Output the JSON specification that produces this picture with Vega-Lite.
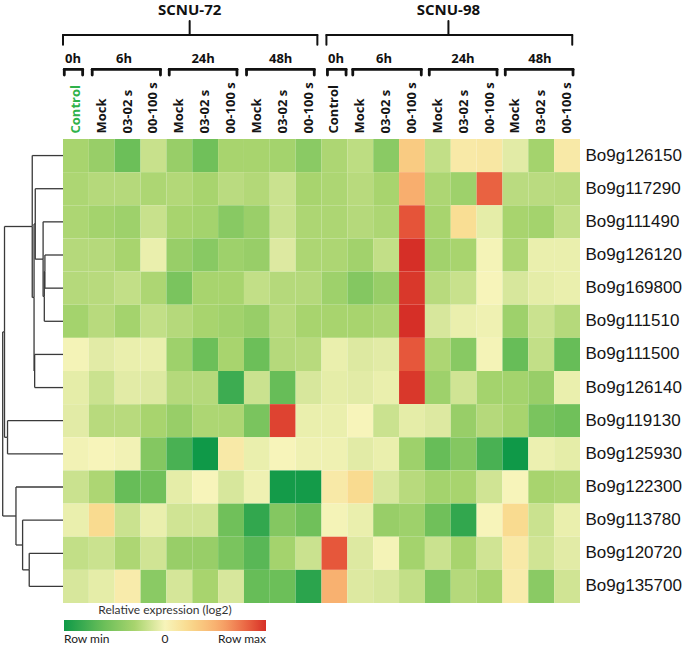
{
"$schema": "https://vega.github.io/schema/vega-lite/v6.json",
"width": 517, "height": 464,
"autosize": {"type": "none"},
"padding": {"left": 63, "top": 139, "right": 105, "bottom": 42},
"background": "white",
"config": {"view": {"stroke": null}},
"datasets": {
"cells": [
{"gene":"Bo9g126150","sample":"72|0h|Control","value":-0.3},{"gene":"Bo9g126150","sample":"72|6h|Mock","value":-0.38},{"gene":"Bo9g126150","sample":"72|6h|03-02 s","value":-0.6},{"gene":"Bo9g126150","sample":"72|6h|00-100 s","value":-0.18},{"gene":"Bo9g126150","sample":"72|24h|Mock","value":-0.38},{"gene":"Bo9g126150","sample":"72|24h|03-02 s","value":-0.58},{"gene":"Bo9g126150","sample":"72|24h|00-100 s","value":-0.3},{"gene":"Bo9g126150","sample":"72|48h|Mock","value":-0.3},{"gene":"Bo9g126150","sample":"72|48h|03-02 s","value":-0.32},{"gene":"Bo9g126150","sample":"72|48h|00-100 s","value":-0.45},{"gene":"Bo9g126150","sample":"98|0h|Control","value":-0.28},{"gene":"Bo9g126150","sample":"98|6h|Mock","value":-0.22},{"gene":"Bo9g126150","sample":"98|6h|03-02 s","value":-0.45},{"gene":"Bo9g126150","sample":"98|6h|00-100 s","value":0.33},{"gene":"Bo9g126150","sample":"98|24h|Mock","value":-0.2},{"gene":"Bo9g126150","sample":"98|24h|03-02 s","value":0.1},{"gene":"Bo9g126150","sample":"98|24h|00-100 s","value":0.12},{"gene":"Bo9g126150","sample":"98|48h|Mock","value":-0.08},{"gene":"Bo9g126150","sample":"98|48h|03-02 s","value":-0.32},{"gene":"Bo9g126150","sample":"98|48h|00-100 s","value":0.1},
{"gene":"Bo9g117290","sample":"72|0h|Control","value":-0.28},{"gene":"Bo9g117290","sample":"72|6h|Mock","value":-0.25},{"gene":"Bo9g117290","sample":"72|6h|03-02 s","value":-0.25},{"gene":"Bo9g117290","sample":"72|6h|00-100 s","value":-0.28},{"gene":"Bo9g117290","sample":"72|24h|Mock","value":-0.26},{"gene":"Bo9g117290","sample":"72|24h|03-02 s","value":-0.3},{"gene":"Bo9g117290","sample":"72|24h|00-100 s","value":-0.23},{"gene":"Bo9g117290","sample":"72|48h|Mock","value":-0.26},{"gene":"Bo9g117290","sample":"72|48h|03-02 s","value":-0.17},{"gene":"Bo9g117290","sample":"72|48h|00-100 s","value":-0.3},{"gene":"Bo9g117290","sample":"98|0h|Control","value":-0.28},{"gene":"Bo9g117290","sample":"98|6h|Mock","value":-0.24},{"gene":"Bo9g117290","sample":"98|6h|03-02 s","value":-0.3},{"gene":"Bo9g117290","sample":"98|6h|00-100 s","value":0.52},{"gene":"Bo9g117290","sample":"98|24h|Mock","value":-0.28},{"gene":"Bo9g117290","sample":"98|24h|03-02 s","value":-0.35},{"gene":"Bo9g117290","sample":"98|24h|00-100 s","value":0.82},{"gene":"Bo9g117290","sample":"98|48h|Mock","value":-0.23},{"gene":"Bo9g117290","sample":"98|48h|03-02 s","value":-0.23},{"gene":"Bo9g117290","sample":"98|48h|00-100 s","value":-0.24},
{"gene":"Bo9g111490","sample":"72|0h|Control","value":-0.28},{"gene":"Bo9g111490","sample":"72|6h|Mock","value":-0.32},{"gene":"Bo9g111490","sample":"72|6h|03-02 s","value":-0.35},{"gene":"Bo9g111490","sample":"72|6h|00-100 s","value":-0.18},{"gene":"Bo9g111490","sample":"72|24h|Mock","value":-0.3},{"gene":"Bo9g111490","sample":"72|24h|03-02 s","value":-0.32},{"gene":"Bo9g111490","sample":"72|24h|00-100 s","value":-0.46},{"gene":"Bo9g111490","sample":"72|48h|Mock","value":-0.37},{"gene":"Bo9g111490","sample":"72|48h|03-02 s","value":-0.17},{"gene":"Bo9g111490","sample":"72|48h|00-100 s","value":-0.28},{"gene":"Bo9g111490","sample":"98|0h|Control","value":-0.28},{"gene":"Bo9g111490","sample":"98|6h|Mock","value":-0.25},{"gene":"Bo9g111490","sample":"98|6h|03-02 s","value":-0.28},{"gene":"Bo9g111490","sample":"98|6h|00-100 s","value":0.87},{"gene":"Bo9g111490","sample":"98|24h|Mock","value":-0.3},{"gene":"Bo9g111490","sample":"98|24h|03-02 s","value":0.2},{"gene":"Bo9g111490","sample":"98|24h|00-100 s","value":-0.07},{"gene":"Bo9g111490","sample":"98|48h|Mock","value":-0.3},{"gene":"Bo9g111490","sample":"98|48h|03-02 s","value":-0.32},{"gene":"Bo9g111490","sample":"98|48h|00-100 s","value":-0.2},
{"gene":"Bo9g126120","sample":"72|0h|Control","value":-0.25},{"gene":"Bo9g126120","sample":"72|6h|Mock","value":-0.25},{"gene":"Bo9g126120","sample":"72|6h|03-02 s","value":-0.3},{"gene":"Bo9g126120","sample":"72|6h|00-100 s","value":-0.05},{"gene":"Bo9g126120","sample":"72|24h|Mock","value":-0.38},{"gene":"Bo9g126120","sample":"72|24h|03-02 s","value":-0.46},{"gene":"Bo9g126120","sample":"72|24h|00-100 s","value":-0.35},{"gene":"Bo9g126120","sample":"72|48h|Mock","value":-0.38},{"gene":"Bo9g126120","sample":"72|48h|03-02 s","value":-0.1},{"gene":"Bo9g126120","sample":"72|48h|00-100 s","value":-0.28},{"gene":"Bo9g126120","sample":"98|0h|Control","value":-0.28},{"gene":"Bo9g126120","sample":"98|6h|Mock","value":-0.33},{"gene":"Bo9g126120","sample":"98|6h|03-02 s","value":-0.2},{"gene":"Bo9g126120","sample":"98|6h|00-100 s","value":1.0},{"gene":"Bo9g126120","sample":"98|24h|Mock","value":-0.33},{"gene":"Bo9g126120","sample":"98|24h|03-02 s","value":-0.3},{"gene":"Bo9g126120","sample":"98|24h|00-100 s","value":-0.01},{"gene":"Bo9g126120","sample":"98|48h|Mock","value":-0.28},{"gene":"Bo9g126120","sample":"98|48h|03-02 s","value":-0.05},{"gene":"Bo9g126120","sample":"98|48h|00-100 s","value":-0.05},
{"gene":"Bo9g169800","sample":"72|0h|Control","value":-0.25},{"gene":"Bo9g169800","sample":"72|6h|Mock","value":-0.24},{"gene":"Bo9g169800","sample":"72|6h|03-02 s","value":-0.2},{"gene":"Bo9g169800","sample":"72|6h|00-100 s","value":-0.28},{"gene":"Bo9g169800","sample":"72|24h|Mock","value":-0.53},{"gene":"Bo9g169800","sample":"72|24h|03-02 s","value":-0.3},{"gene":"Bo9g169800","sample":"72|24h|00-100 s","value":-0.3},{"gene":"Bo9g169800","sample":"72|48h|Mock","value":-0.2},{"gene":"Bo9g169800","sample":"72|48h|03-02 s","value":-0.25},{"gene":"Bo9g169800","sample":"72|48h|00-100 s","value":-0.25},{"gene":"Bo9g169800","sample":"98|0h|Control","value":-0.35},{"gene":"Bo9g169800","sample":"98|6h|Mock","value":-0.48},{"gene":"Bo9g169800","sample":"98|6h|03-02 s","value":-0.38},{"gene":"Bo9g169800","sample":"98|6h|00-100 s","value":0.97},{"gene":"Bo9g169800","sample":"98|24h|Mock","value":-0.24},{"gene":"Bo9g169800","sample":"98|24h|03-02 s","value":-0.18},{"gene":"Bo9g169800","sample":"98|24h|00-100 s","value":0.0},{"gene":"Bo9g169800","sample":"98|48h|Mock","value":-0.12},{"gene":"Bo9g169800","sample":"98|48h|03-02 s","value":-0.07},{"gene":"Bo9g169800","sample":"98|48h|00-100 s","value":-0.05},
{"gene":"Bo9g111510","sample":"72|0h|Control","value":-0.32},{"gene":"Bo9g111510","sample":"72|6h|Mock","value":-0.24},{"gene":"Bo9g111510","sample":"72|6h|03-02 s","value":-0.32},{"gene":"Bo9g111510","sample":"72|6h|00-100 s","value":-0.2},{"gene":"Bo9g111510","sample":"72|24h|Mock","value":-0.25},{"gene":"Bo9g111510","sample":"72|24h|03-02 s","value":-0.3},{"gene":"Bo9g111510","sample":"72|24h|00-100 s","value":-0.33},{"gene":"Bo9g111510","sample":"72|48h|Mock","value":-0.38},{"gene":"Bo9g111510","sample":"72|48h|03-02 s","value":-0.24},{"gene":"Bo9g111510","sample":"72|48h|00-100 s","value":-0.3},{"gene":"Bo9g111510","sample":"98|0h|Control","value":-0.3},{"gene":"Bo9g111510","sample":"98|6h|Mock","value":-0.3},{"gene":"Bo9g111510","sample":"98|6h|03-02 s","value":-0.28},{"gene":"Bo9g111510","sample":"98|6h|00-100 s","value":1.0},{"gene":"Bo9g111510","sample":"98|24h|Mock","value":-0.12},{"gene":"Bo9g111510","sample":"98|24h|03-02 s","value":-0.05},{"gene":"Bo9g111510","sample":"98|24h|00-100 s","value":-0.03},{"gene":"Bo9g111510","sample":"98|48h|Mock","value":-0.35},{"gene":"Bo9g111510","sample":"98|48h|03-02 s","value":-0.17},{"gene":"Bo9g111510","sample":"98|48h|00-100 s","value":-0.25},
{"gene":"Bo9g111500","sample":"72|0h|Control","value":-0.01},{"gene":"Bo9g111500","sample":"72|6h|Mock","value":-0.08},{"gene":"Bo9g111500","sample":"72|6h|03-02 s","value":-0.05},{"gene":"Bo9g111500","sample":"72|6h|00-100 s","value":-0.05},{"gene":"Bo9g111500","sample":"72|24h|Mock","value":-0.35},{"gene":"Bo9g111500","sample":"72|24h|03-02 s","value":-0.6},{"gene":"Bo9g111500","sample":"72|24h|00-100 s","value":-0.3},{"gene":"Bo9g111500","sample":"72|48h|Mock","value":-0.6},{"gene":"Bo9g111500","sample":"72|48h|03-02 s","value":-0.25},{"gene":"Bo9g111500","sample":"72|48h|00-100 s","value":-0.24},{"gene":"Bo9g111500","sample":"98|0h|Control","value":-0.05},{"gene":"Bo9g111500","sample":"98|6h|Mock","value":-0.1},{"gene":"Bo9g111500","sample":"98|6h|03-02 s","value":-0.08},{"gene":"Bo9g111500","sample":"98|6h|00-100 s","value":0.86},{"gene":"Bo9g111500","sample":"98|24h|Mock","value":-0.28},{"gene":"Bo9g111500","sample":"98|24h|03-02 s","value":-0.46},{"gene":"Bo9g111500","sample":"98|24h|00-100 s","value":-0.01},{"gene":"Bo9g111500","sample":"98|48h|Mock","value":-0.62},{"gene":"Bo9g111500","sample":"98|48h|03-02 s","value":-0.2},{"gene":"Bo9g111500","sample":"98|48h|00-100 s","value":-0.62},
{"gene":"Bo9g126140","sample":"72|0h|Control","value":-0.07},{"gene":"Bo9g126140","sample":"72|6h|Mock","value":-0.17},{"gene":"Bo9g126140","sample":"72|6h|03-02 s","value":-0.08},{"gene":"Bo9g126140","sample":"72|6h|00-100 s","value":-0.1},{"gene":"Bo9g126140","sample":"72|24h|Mock","value":-0.25},{"gene":"Bo9g126140","sample":"72|24h|03-02 s","value":-0.25},{"gene":"Bo9g126140","sample":"72|24h|00-100 s","value":-0.8},{"gene":"Bo9g126140","sample":"72|48h|Mock","value":-0.17},{"gene":"Bo9g126140","sample":"72|48h|03-02 s","value":-0.62},{"gene":"Bo9g126140","sample":"72|48h|00-100 s","value":-0.12},{"gene":"Bo9g126140","sample":"98|0h|Control","value":-0.07},{"gene":"Bo9g126140","sample":"98|6h|Mock","value":-0.08},{"gene":"Bo9g126140","sample":"98|6h|03-02 s","value":-0.05},{"gene":"Bo9g126140","sample":"98|6h|00-100 s","value":0.97},{"gene":"Bo9g126140","sample":"98|24h|Mock","value":-0.35},{"gene":"Bo9g126140","sample":"98|24h|03-02 s","value":-0.15},{"gene":"Bo9g126140","sample":"98|24h|00-100 s","value":-0.32},{"gene":"Bo9g126140","sample":"98|48h|Mock","value":-0.32},{"gene":"Bo9g126140","sample":"98|48h|03-02 s","value":-0.38},{"gene":"Bo9g126140","sample":"98|48h|00-100 s","value":-0.05},
{"gene":"Bo9g119130","sample":"72|0h|Control","value":-0.08},{"gene":"Bo9g119130","sample":"72|6h|Mock","value":-0.24},{"gene":"Bo9g119130","sample":"72|6h|03-02 s","value":-0.24},{"gene":"Bo9g119130","sample":"72|6h|00-100 s","value":-0.3},{"gene":"Bo9g119130","sample":"72|24h|Mock","value":-0.38},{"gene":"Bo9g119130","sample":"72|24h|03-02 s","value":-0.28},{"gene":"Bo9g119130","sample":"72|24h|00-100 s","value":-0.28},{"gene":"Bo9g119130","sample":"72|48h|Mock","value":-0.53},{"gene":"Bo9g119130","sample":"72|48h|03-02 s","value":0.93},{"gene":"Bo9g119130","sample":"72|48h|00-100 s","value":-0.05},{"gene":"Bo9g119130","sample":"98|0h|Control","value":-0.05},{"gene":"Bo9g119130","sample":"98|6h|Mock","value":0.0},{"gene":"Bo9g119130","sample":"98|6h|03-02 s","value":-0.17},{"gene":"Bo9g119130","sample":"98|6h|00-100 s","value":-0.07},{"gene":"Bo9g119130","sample":"98|24h|Mock","value":-0.1},{"gene":"Bo9g119130","sample":"98|24h|03-02 s","value":-0.38},{"gene":"Bo9g119130","sample":"98|24h|00-100 s","value":-0.25},{"gene":"Bo9g119130","sample":"98|48h|Mock","value":-0.3},{"gene":"Bo9g119130","sample":"98|48h|03-02 s","value":-0.53},{"gene":"Bo9g119130","sample":"98|48h|00-100 s","value":-0.58},
{"gene":"Bo9g125930","sample":"72|0h|Control","value":-0.02},{"gene":"Bo9g125930","sample":"72|6h|Mock","value":0.0},{"gene":"Bo9g125930","sample":"72|6h|03-02 s","value":-0.02},{"gene":"Bo9g125930","sample":"72|6h|00-100 s","value":-0.48},{"gene":"Bo9g125930","sample":"72|24h|Mock","value":-0.75},{"gene":"Bo9g125930","sample":"72|24h|03-02 s","value":-1.0},{"gene":"Bo9g125930","sample":"72|24h|00-100 s","value":0.1},{"gene":"Bo9g125930","sample":"72|48h|Mock","value":-0.05},{"gene":"Bo9g125930","sample":"72|48h|03-02 s","value":0.0},{"gene":"Bo9g125930","sample":"72|48h|00-100 s","value":-0.03},{"gene":"Bo9g125930","sample":"98|0h|Control","value":-0.03},{"gene":"Bo9g125930","sample":"98|6h|Mock","value":-0.08},{"gene":"Bo9g125930","sample":"98|6h|03-02 s","value":-0.05},{"gene":"Bo9g125930","sample":"98|6h|00-100 s","value":-0.35},{"gene":"Bo9g125930","sample":"98|24h|Mock","value":-0.62},{"gene":"Bo9g125930","sample":"98|24h|03-02 s","value":-0.48},{"gene":"Bo9g125930","sample":"98|24h|00-100 s","value":-0.75},{"gene":"Bo9g125930","sample":"98|48h|Mock","value":-1.0},{"gene":"Bo9g125930","sample":"98|48h|03-02 s","value":-0.04},{"gene":"Bo9g125930","sample":"98|48h|00-100 s","value":-0.07},
{"gene":"Bo9g122300","sample":"72|0h|Control","value":-0.17},{"gene":"Bo9g122300","sample":"72|6h|Mock","value":-0.28},{"gene":"Bo9g122300","sample":"72|6h|03-02 s","value":-0.62},{"gene":"Bo9g122300","sample":"72|6h|00-100 s","value":-0.58},{"gene":"Bo9g122300","sample":"72|24h|Mock","value":-0.07},{"gene":"Bo9g122300","sample":"72|24h|03-02 s","value":0.0},{"gene":"Bo9g122300","sample":"72|24h|00-100 s","value":-0.12},{"gene":"Bo9g122300","sample":"72|48h|Mock","value":-0.03},{"gene":"Bo9g122300","sample":"72|48h|03-02 s","value":-0.98},{"gene":"Bo9g122300","sample":"72|48h|00-100 s","value":-0.98},{"gene":"Bo9g122300","sample":"98|0h|Control","value":0.1},{"gene":"Bo9g122300","sample":"98|6h|Mock","value":0.22},{"gene":"Bo9g122300","sample":"98|6h|03-02 s","value":-0.12},{"gene":"Bo9g122300","sample":"98|6h|00-100 s","value":-0.24},{"gene":"Bo9g122300","sample":"98|24h|Mock","value":-0.32},{"gene":"Bo9g122300","sample":"98|24h|03-02 s","value":-0.3},{"gene":"Bo9g122300","sample":"98|24h|00-100 s","value":-0.15},{"gene":"Bo9g122300","sample":"98|48h|Mock","value":0.0},{"gene":"Bo9g122300","sample":"98|48h|03-02 s","value":-0.3},{"gene":"Bo9g122300","sample":"98|48h|00-100 s","value":-0.28},
{"gene":"Bo9g113780","sample":"72|0h|Control","value":-0.05},{"gene":"Bo9g113780","sample":"72|6h|Mock","value":0.22},{"gene":"Bo9g113780","sample":"72|6h|03-02 s","value":-0.17},{"gene":"Bo9g113780","sample":"72|6h|00-100 s","value":-0.05},{"gene":"Bo9g113780","sample":"72|24h|Mock","value":-0.15},{"gene":"Bo9g113780","sample":"72|24h|03-02 s","value":-0.15},{"gene":"Bo9g113780","sample":"72|24h|00-100 s","value":-0.58},{"gene":"Bo9g113780","sample":"72|48h|Mock","value":-0.85},{"gene":"Bo9g113780","sample":"72|48h|03-02 s","value":-0.48},{"gene":"Bo9g113780","sample":"72|48h|00-100 s","value":-0.58},{"gene":"Bo9g113780","sample":"98|0h|Control","value":-0.01},{"gene":"Bo9g113780","sample":"98|6h|Mock","value":-0.05},{"gene":"Bo9g113780","sample":"98|6h|03-02 s","value":-0.38},{"gene":"Bo9g113780","sample":"98|6h|00-100 s","value":-0.35},{"gene":"Bo9g113780","sample":"98|24h|Mock","value":-0.58},{"gene":"Bo9g113780","sample":"98|24h|03-02 s","value":-0.85},{"gene":"Bo9g113780","sample":"98|24h|00-100 s","value":0.0},{"gene":"Bo9g113780","sample":"98|48h|Mock","value":0.22},{"gene":"Bo9g113780","sample":"98|48h|03-02 s","value":-0.17},{"gene":"Bo9g113780","sample":"98|48h|00-100 s","value":-0.05},
{"gene":"Bo9g120720","sample":"72|0h|Control","value":-0.2},{"gene":"Bo9g120720","sample":"72|6h|Mock","value":-0.17},{"gene":"Bo9g120720","sample":"72|6h|03-02 s","value":-0.28},{"gene":"Bo9g120720","sample":"72|6h|00-100 s","value":-0.15},{"gene":"Bo9g120720","sample":"72|24h|Mock","value":-0.38},{"gene":"Bo9g120720","sample":"72|24h|03-02 s","value":-0.38},{"gene":"Bo9g120720","sample":"72|24h|00-100 s","value":-0.53},{"gene":"Bo9g120720","sample":"72|48h|Mock","value":-0.68},{"gene":"Bo9g120720","sample":"72|48h|03-02 s","value":-0.32},{"gene":"Bo9g120720","sample":"72|48h|00-100 s","value":-0.17},{"gene":"Bo9g120720","sample":"98|0h|Control","value":0.86},{"gene":"Bo9g120720","sample":"98|6h|Mock","value":-0.1},{"gene":"Bo9g120720","sample":"98|6h|03-02 s","value":-0.01},{"gene":"Bo9g120720","sample":"98|6h|00-100 s","value":-0.32},{"gene":"Bo9g120720","sample":"98|24h|Mock","value":-0.17},{"gene":"Bo9g120720","sample":"98|24h|03-02 s","value":-0.3},{"gene":"Bo9g120720","sample":"98|24h|00-100 s","value":-0.15},{"gene":"Bo9g120720","sample":"98|48h|Mock","value":0.1},{"gene":"Bo9g120720","sample":"98|48h|03-02 s","value":-0.15},{"gene":"Bo9g120720","sample":"98|48h|00-100 s","value":-0.08},
{"gene":"Bo9g135700","sample":"72|0h|Control","value":-0.12},{"gene":"Bo9g135700","sample":"72|6h|Mock","value":-0.07},{"gene":"Bo9g135700","sample":"72|6h|03-02 s","value":0.08},{"gene":"Bo9g135700","sample":"72|6h|00-100 s","value":-0.45},{"gene":"Bo9g135700","sample":"72|24h|Mock","value":-0.13},{"gene":"Bo9g135700","sample":"72|24h|03-02 s","value":-0.3},{"gene":"Bo9g135700","sample":"72|24h|00-100 s","value":-0.12},{"gene":"Bo9g135700","sample":"72|48h|Mock","value":-0.62},{"gene":"Bo9g135700","sample":"72|48h|03-02 s","value":-0.6},{"gene":"Bo9g135700","sample":"72|48h|00-100 s","value":-0.88},{"gene":"Bo9g135700","sample":"98|0h|Control","value":0.5},{"gene":"Bo9g135700","sample":"98|6h|Mock","value":-0.1},{"gene":"Bo9g135700","sample":"98|6h|03-02 s","value":-0.12},{"gene":"Bo9g135700","sample":"98|6h|00-100 s","value":-0.2},{"gene":"Bo9g135700","sample":"98|24h|Mock","value":-0.5},{"gene":"Bo9g135700","sample":"98|24h|03-02 s","value":-0.25},{"gene":"Bo9g135700","sample":"98|24h|00-100 s","value":-0.3},{"gene":"Bo9g135700","sample":"98|48h|Mock","value":0.08},{"gene":"Bo9g135700","sample":"98|48h|03-02 s","value":-0.45},{"gene":"Bo9g135700","sample":"98|48h|00-100 s","value":-0.15}
],
"edges": [
{"hc":0,"yc":3.5,"hp":0.30,"yp":4.0},{"hc":0,"yc":4.5,"hp":0.30,"yp":4.0},
{"hc":0.30,"yc":4.0,"hp":0.31,"yp":4.75},{"hc":0,"yc":5.5,"hp":0.31,"yp":4.75},
{"hc":0,"yc":2.5,"hp":0.33,"yp":3.625},{"hc":0.31,"yc":4.75,"hp":0.33,"yp":3.625},
{"hc":0,"yc":1.5,"hp":0.46,"yp":2.5625},{"hc":0.33,"yc":3.625,"hp":0.46,"yp":2.5625},
{"hc":0,"yc":6.5,"hp":0.47,"yp":7.0},{"hc":0,"yc":7.5,"hp":0.47,"yp":7.0},
{"hc":0.46,"yc":2.5625,"hp":0.48,"yp":4.78},{"hc":0.47,"yc":7.0,"hp":0.48,"yp":4.78},
{"hc":0,"yc":0.5,"hp":0.51,"yp":2.64},{"hc":0.48,"yc":4.78,"hp":0.51,"yp":2.64},
{"hc":0,"yc":8.5,"hp":0.92,"yp":9.0},{"hc":0,"yc":9.5,"hp":0.92,"yp":9.0},
{"hc":0.51,"yc":2.64,"hp":0.97,"yp":5.82},{"hc":0.92,"yc":9.0,"hp":0.97,"yp":5.82},
{"hc":0,"yc":12.5,"hp":0.56,"yp":13.0},{"hc":0,"yc":13.5,"hp":0.56,"yp":13.0},
{"hc":0,"yc":11.5,"hp":0.67,"yp":12.25},{"hc":0.56,"yc":13.0,"hp":0.67,"yp":12.25},
{"hc":0,"yc":10.5,"hp":0.78,"yp":11.375},{"hc":0.67,"yc":12.25,"hp":0.78,"yp":11.375},
{"hc":0.97,"yc":5.82,"hp":1.0,"yp":8.6},{"hc":0.78,"yc":11.375,"hp":1.0,"yp":8.6}
],
"strains": [
{"strain":"SCNU-72","from":0.0,"to":9.84,"mid":4.9},
{"strain":"SCNU-98","from":10.19,"to":19.7,"mid":14.91}
],
"times": [
{"time":"0h","from":0.05,"to":0.76,"mid":0.39},
{"time":"6h","from":1.13,"to":3.77,"mid":2.36},
{"time":"24h","from":4.11,"to":6.73,"mid":5.42},
{"time":"48h","from":7.1,"to":9.72,"mid":8.42},
{"time":"0h","from":10.23,"to":10.95,"mid":10.56},
{"time":"6h","from":11.21,"to":13.86,"mid":12.42},
{"time":"24h","from":14.17,"to":16.79,"mid":15.47},
{"time":"48h","from":17.11,"to":19.73,"mid":18.45}
]
},
"layer": [
{
"data": {"name": "cells"},
"mark": {"type": "rect"},
"encoding": {
"x": {"field": "sample", "type": "nominal", "sort": null,
"axis": {"orient": "top", "title": null, "labelAngle": -90, "labelAlign": "left", "labelBaseline": "middle",
"labelExpr": "split(datum.value, '|')[2]", "ticks": false, "tickSize": 0, "domain": false, "labelPadding": 6,
"labelFont": "Open Sans", "labelFontWeight": "bold", "labelFontSize": 13,
"labelColor": {"condition": {"test": "datum.value === '72|0h|Control'", "value": "#2fb24a"}, "value": "#151515"}}},
"y": {"field": "gene", "type": "nominal", "sort": null,
"axis": {"orient": "right", "title": null, "ticks": false, "tickSize": 0, "domain": false, "labelPadding": 5,
"labelFont": "Liberation Sans", "labelFontSize": 17, "labelColor": "#151515"}},
"color": {"field": "value", "type": "quantitative",
"scale": {"domain": [-1, -0.6, -0.3, 0, 0.25, 0.55, 0.85, 1],
"range": ["#0f9948", "#6cbf59", "#a8d46e", "#f7f4ba", "#f9d88a", "#f8a96b", "#e75a3c", "#d62f27"],
"interpolate": "rgb"},
"legend": {"orient": "none", "legendX": 1, "legendY": 466, "direction": "horizontal",
"gradientLength": 202, "gradientThickness": 11, "gradientStrokeWidth": 0,
"title": "Relative expression (log2)", "titleFont": "Lato", "titleFontWeight": "normal", "titleFontSize": 12,
"titleColor": "#333", "titleAnchor": "middle", "titlePadding": 3,
"values": [-1, 0, 1],
"labelExpr": "datum.value == -1 ? 'Row min' : datum.value == 1 ? 'Row max' : '0'",
"labelFont": "Lato", "labelFontSize": 12, "labelColor": "#222", "labelOffset": 3}}
}
},
{
"data": {"name": "edges"},
"layer": [
{"mark": {"type": "rule", "color": "#3a3a3a", "strokeWidth": 1.3},
"encoding": {
"x": {"field": "hc", "type": "quantitative", "scale": {"domain": [0, 1], "range": [0, -60.3], "nice": false, "zero": false}, "axis": null},
"x2": {"field": "hp"},
"y": {"field": "yc", "type": "quantitative", "scale": {"domain": [0, 14], "reverse": true, "nice": false, "zero": false}, "axis": null}}},
{"mark": {"type": "rule", "color": "#3a3a3a", "strokeWidth": 1.3},
"encoding": {
"x": {"field": "hp", "type": "quantitative", "scale": {"domain": [0, 1], "range": [0, -60.3], "nice": false, "zero": false}, "axis": null},
"y": {"field": "yc", "type": "quantitative", "scale": {"domain": [0, 14], "reverse": true, "nice": false, "zero": false}, "axis": null},
"y2": {"field": "yp"}}}
]
},
{
"layer": [
{"data": {"name": "times"},
"mark": {"type": "rule", "color": "#111", "strokeWidth": 2.8, "strokeCap": "round"},
"encoding": {
"x": {"field": "from", "type": "quantitative", "scale": {"domain": [0, 20], "nice": false, "zero": false}, "axis": null},
"x2": {"field": "to"},
"y": {"datum": -2.1, "type": "quantitative", "scale": {"domain": [0, 14], "reverse": true, "nice": false, "zero": false}, "axis": null}}},
{"data": {"name": "times"},
"mark": {"type": "rule", "color": "#111", "strokeWidth": 2.8, "strokeCap": "round"},
"encoding": {
"x": {"field": "from", "type": "quantitative"},
"y": {"datum": -2.1, "type": "quantitative"},
"y2": {"datum": -1.93}}},
{"data": {"name": "times"},
"mark": {"type": "rule", "color": "#111", "strokeWidth": 2.8, "strokeCap": "round"},
"encoding": {
"x": {"field": "to", "type": "quantitative"},
"y": {"datum": -2.1, "type": "quantitative"},
"y2": {"datum": -1.93}}},
{"data": {"name": "times"},
"mark": {"type": "text", "font": "Open Sans", "fontWeight": "bold", "fontSize": 13, "color": "#111", "baseline": "middle", "align": "center"},
"encoding": {
"x": {"field": "mid", "type": "quantitative"},
"y": {"datum": -2.4, "type": "quantitative"},
"text": {"field": "time"}}},
{"data": {"name": "strains"},
"mark": {"type": "rule", "color": "#111", "strokeWidth": 2, "strokeCap": "round"},
"encoding": {
"x": {"field": "from", "type": "quantitative"},
"x2": {"field": "to"},
"y": {"datum": -3.14, "type": "quantitative"}}},
{"data": {"name": "strains"},
"mark": {"type": "rule", "color": "#111", "strokeWidth": 2, "strokeCap": "round"},
"encoding": {
"x": {"field": "from", "type": "quantitative"},
"y": {"datum": -3.14, "type": "quantitative"},
"y2": {"datum": -2.84}}},
{"data": {"name": "strains"},
"mark": {"type": "rule", "color": "#111", "strokeWidth": 2, "strokeCap": "round"},
"encoding": {
"x": {"field": "to", "type": "quantitative"},
"y": {"datum": -3.14, "type": "quantitative"},
"y2": {"datum": -2.84}}},
{"data": {"name": "strains"},
"mark": {"type": "rule", "color": "#111", "strokeWidth": 2, "strokeCap": "round"},
"encoding": {
"x": {"field": "mid", "type": "quantitative"},
"y": {"datum": -3.56, "type": "quantitative"},
"y2": {"datum": -3.14}}},
{"data": {"name": "strains"},
"mark": {"type": "text", "font": "Open Sans", "fontWeight": "bold", "fontSize": 15, "color": "#111", "baseline": "middle", "align": "center"},
"encoding": {
"x": {"field": "mid", "type": "quantitative"},
"y": {"datum": -3.9, "type": "quantitative"},
"text": {"field": "strain"}}}
]
}
],
"resolve": {"scale": {"x": "independent", "y": "independent"}}
}
